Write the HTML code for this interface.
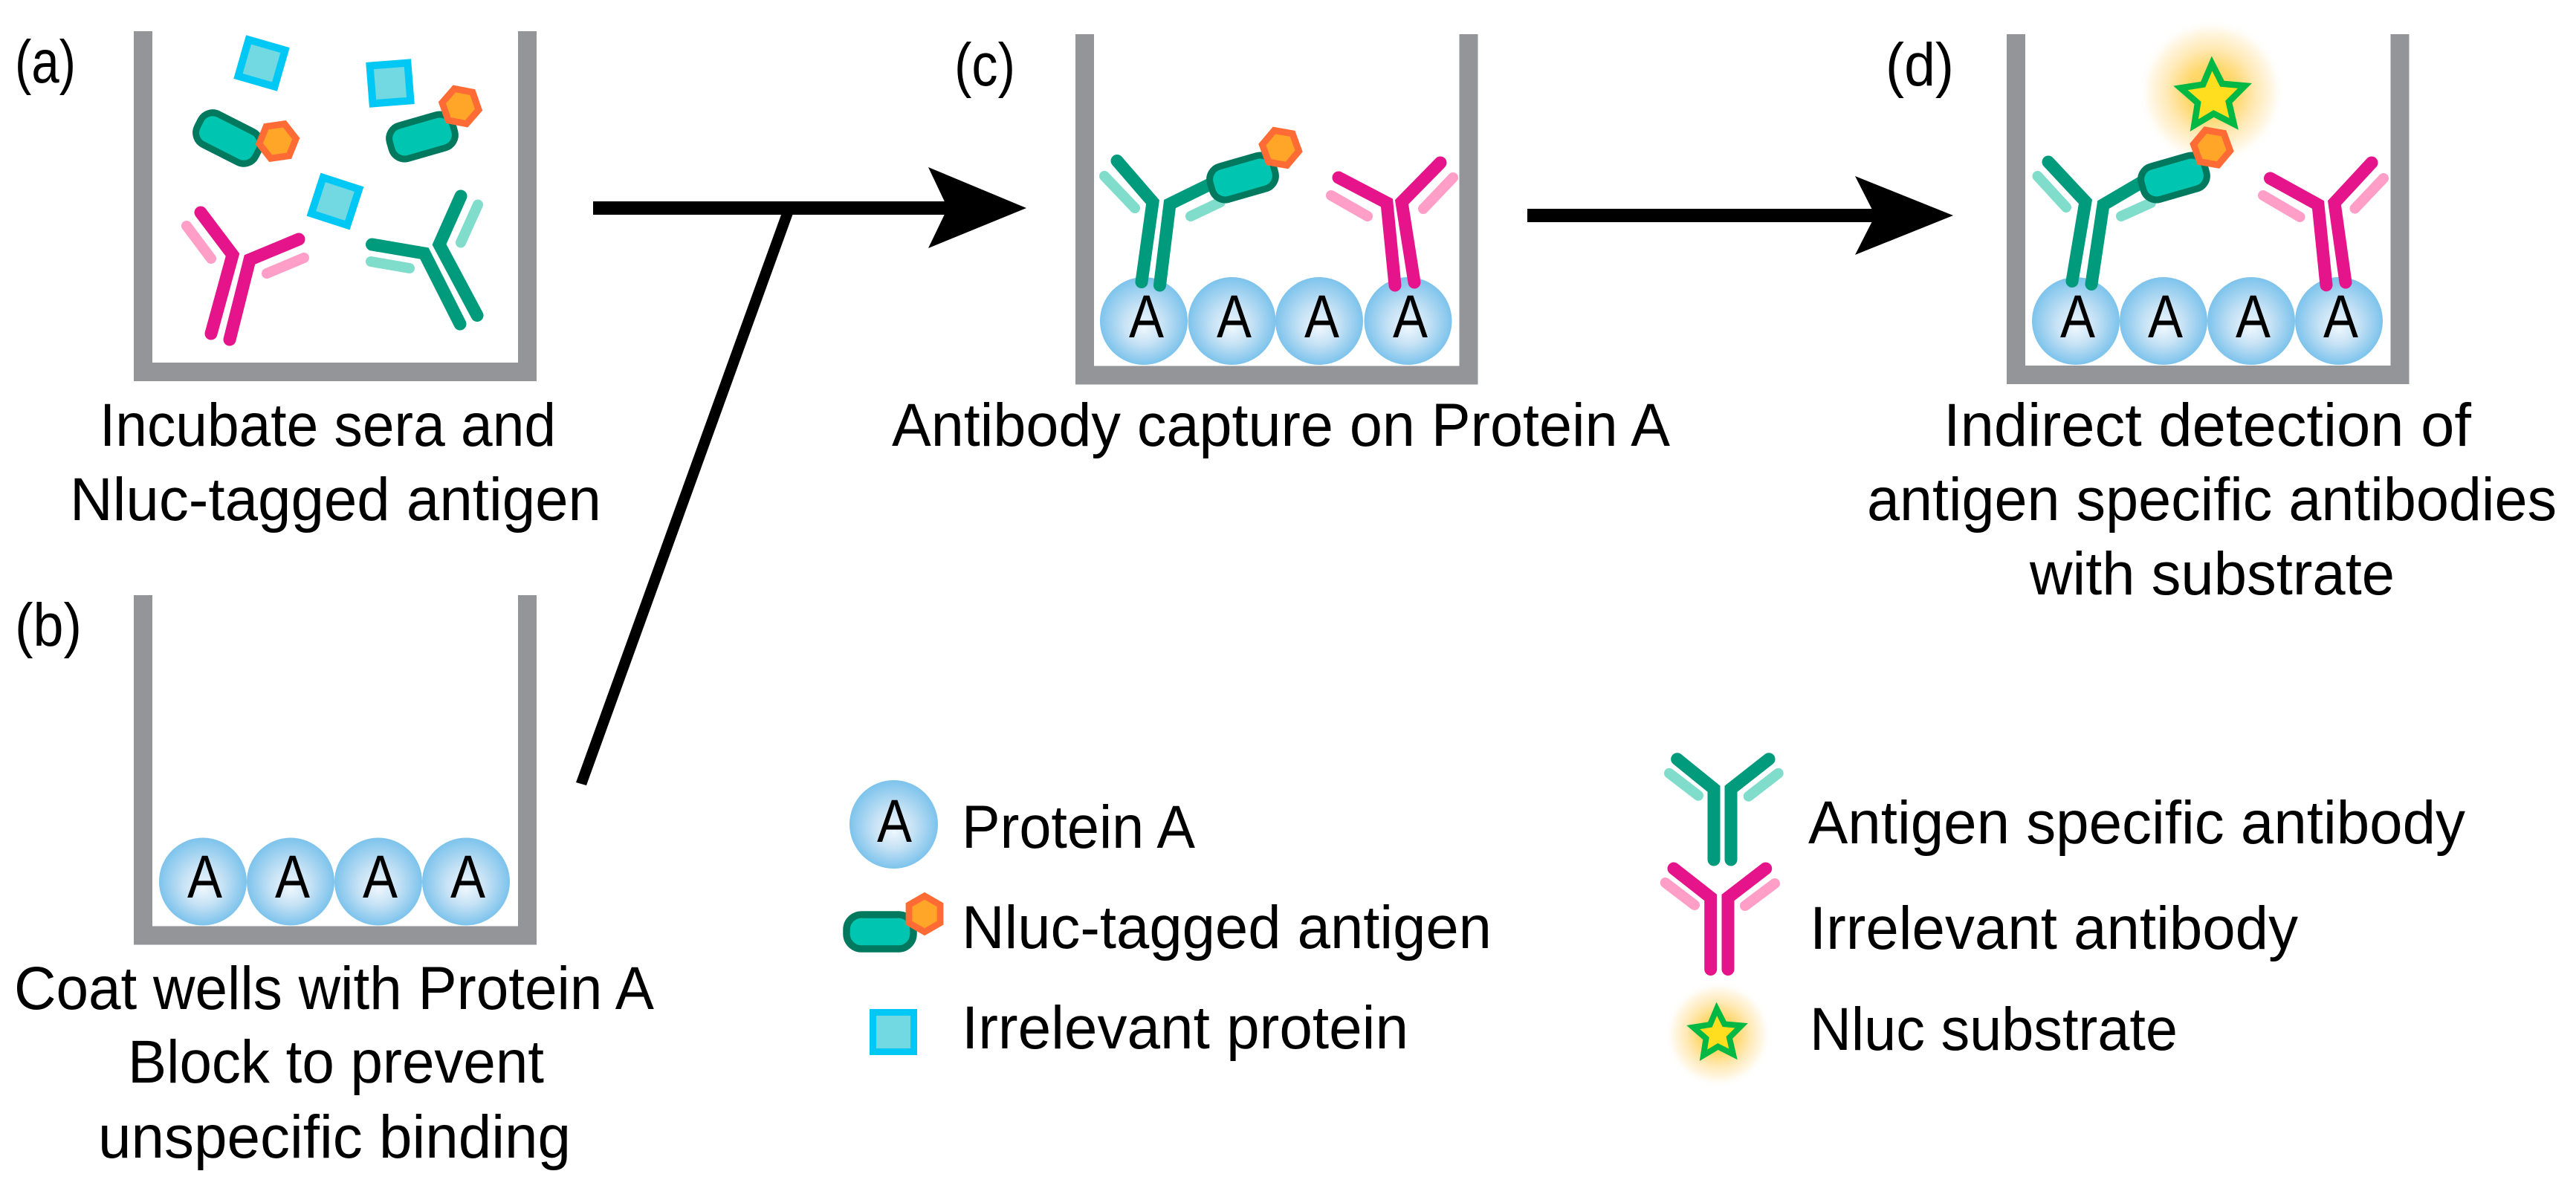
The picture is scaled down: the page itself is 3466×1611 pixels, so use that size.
<!DOCTYPE html>
<html><head><meta charset="utf-8"><style>html,body{margin:0;padding:0;background:#fff}svg{display:block}text{font-family:"Liberation Sans",sans-serif;font-size:82px;fill:#000}</style></head><body>
<svg xmlns="http://www.w3.org/2000/svg" width="3466" height="1611" viewBox="0 0 3466 1611">
<defs>
<radialGradient id="b" cx=".5" cy=".5" r=".5" fx=".5" fy=".58"><stop offset="0" stop-color="#EEF7FD"/><stop offset=".45" stop-color="#C6E2F5"/><stop offset="1" stop-color="#7DC3EC"/></radialGradient>
<radialGradient id="g"><stop offset="0" stop-color="#FFD24A"/><stop offset=".35" stop-color="#FFD86E"/><stop offset=".6" stop-color="#FFE9B4"/><stop offset=".85" stop-color="#FFF8E8"/><stop offset="1" stop-color="#FFFFFF" stop-opacity="0"/></radialGradient>
<polygon id="hex" points="25,0 12.5,21.65 -12.5,21.65 -25,0 -12.5,-21.65 12.5,-21.65" fill="#FFA629" stroke="#FF6B35" stroke-width="9"/>
<rect id="pill" x="-44" y="-23" width="88" height="46" rx="18" fill="#00C5B1" stroke="#00795F" stroke-width="9"/>
<rect id="sq" x="-25.5" y="-25.5" width="51" height="51" fill="#72D8E2" stroke="#00C8F5" stroke-width="10"/>
<polygon id="star" points="0,-45.5 12.9,-17.8 43.3,-14.1 20.9,6.8 26.7,36.8 0,22 -26.7,36.8 -20.9,6.8 -43.3,-14.1 -12.9,-17.8" fill="#FFDD1F" stroke="#00B843" stroke-miterlimit="10"/>
</defs>

<!-- wells -->
<g fill="none" stroke="#939598" stroke-width="25" stroke-linejoin="miter">
<path d="M192.500 42V500.500H709.500V42"/>
<path d="M192.500 801V1259H709.500V801"/>
<path d="M1459.500 46V505H1976V46"/>
<path d="M2712.500 46V504.500H3229V46"/>
</g>

<!-- protein A circles -->
<g fill="url(#b)">
<circle cx="273" cy="1186.500" r="59"/><circle cx="391" cy="1186.500" r="59"/><circle cx="509" cy="1186.500" r="59"/><circle cx="627" cy="1186.500" r="59"/>
<circle cx="1539" cy="432" r="59"/><circle cx="1657.500" cy="432" r="59"/><circle cx="1775" cy="432" r="59"/><circle cx="1894.500" cy="432" r="59"/>
<circle cx="2793" cy="432" r="59"/><circle cx="2911" cy="432" r="59"/><circle cx="3029" cy="432" r="59"/><circle cx="3147" cy="432" r="59"/>
<circle cx="1202.500" cy="1109.500" r="59.500"/>
</g>
<g>
<text x="252" y="1208" textLength="47" lengthAdjust="spacingAndGlyphs">A</text>
<text x="370" y="1208" textLength="47" lengthAdjust="spacingAndGlyphs">A</text>
<text x="488" y="1208" textLength="47" lengthAdjust="spacingAndGlyphs">A</text>
<text x="606" y="1208" textLength="47" lengthAdjust="spacingAndGlyphs">A</text>
<text x="1519" y="454" textLength="47" lengthAdjust="spacingAndGlyphs">A</text>
<text x="1637" y="454" textLength="47" lengthAdjust="spacingAndGlyphs">A</text>
<text x="1755" y="454" textLength="47" lengthAdjust="spacingAndGlyphs">A</text>
<text x="1874" y="454" textLength="47" lengthAdjust="spacingAndGlyphs">A</text>
<text x="2772" y="454" textLength="47" lengthAdjust="spacingAndGlyphs">A</text>
<text x="2890" y="454" textLength="47" lengthAdjust="spacingAndGlyphs">A</text>
<text x="3008" y="454" textLength="47" lengthAdjust="spacingAndGlyphs">A</text>
<text x="3126" y="454" textLength="47" lengthAdjust="spacingAndGlyphs">A</text>
<text x="1180" y="1133" textLength="47" lengthAdjust="spacingAndGlyphs">A</text>
</g>

<!-- glows -->
<circle cx="2975.500" cy="124" r="98" fill="url(#g)"/>
<circle cx="2312" cy="1392" r="71" fill="url(#g)"/>

<!-- light chains -->
<g fill="none" stroke="#80DCCB" stroke-width="14" stroke-linecap="round">
<path d="M643 275.500L620 326.500M499 352L551 361"/>
<path d="M1486 237L1527 280M1602 291L1642 272"/>
<path d="M2741.500 237L2780 279M2854 291L2894 273"/>
<path d="M2246 1040.700L2285 1070.700M2392.700 1040.700L2352.700 1071.700"/>
</g>
<g fill="none" stroke="#FF9EC7" stroke-width="14" stroke-linecap="round">
<path d="M251 304L284 348M359 368L409 347"/>
<path d="M1791 263L1840 291M1955 239L1915 281"/>
<path d="M3045 263L3094.500 292M3207 240L3168.500 280.600"/>
<path d="M2240.700 1188L2280 1218M2388 1189L2348 1219"/>
</g>

<!-- heavy chains -->
<g fill="none" stroke="#009A7C" stroke-width="17" stroke-linecap="round" stroke-linejoin="miter">
<path d="M620 264L591 329L642 424.500M500.500 329L571 341L619 436"/>
<path d="M1503 216.500L1551 272L1536 379.500M1628 248L1574 274.500L1560.500 384"/>
<path d="M2756 218L2806 271.500L2788 378.500M2882 245L2830 275.500L2814 382.500"/>
<path d="M2256.700 1021.700L2306 1061.700L2306 1157M2380 1021.700L2329 1061.700L2329 1157"/>
</g>
<g fill="none" stroke="#E6148A" stroke-width="17" stroke-linecap="round" stroke-linejoin="miter">
<path d="M270 286L313 343L284 449M402 322L336 349.500L309 457"/>
<path d="M1801 239L1866 273L1877 384M1938 219L1886 272L1903 380"/>
<path d="M3054.500 240L3119 275.500L3130 383.700M3191 219L3141 273L3156 380"/>
<path d="M2252 1169L2301.700 1208L2301.700 1304.500M2375.700 1169L2325 1208L2325 1304.500"/>
</g>

<!-- irrelevant proteins -->
<use href="#sq" transform="translate(352 85) rotate(16)"/>
<use href="#sq" transform="translate(525 112) rotate(-4.500)"/>
<use href="#sq" transform="translate(451 271) rotate(18)"/>
<rect x="1174.500" y="1362.500" width="55" height="53" fill="#72D8E2" stroke="#00C8F5" stroke-width="9"/>

<!-- antigens -->
<use href="#pill" transform="translate(307 186) rotate(27)"/>
<use href="#hex" transform="translate(373.500 190) rotate(-8)"/>
<use href="#pill" transform="translate(568 184) rotate(-16)"/>
<use href="#hex" transform="translate(619.500 143) rotate(11)"/>
<use href="#pill" transform="translate(1672 239) rotate(-16)"/>
<use href="#hex" transform="translate(1723 199) rotate(10)"/>
<use href="#pill" transform="translate(2925 239) rotate(-16)"/>
<use href="#hex" transform="translate(2976 198.500) rotate(10)"/>
<rect x="1139" y="1231" width="90" height="46" rx="20" fill="#00C5B1" stroke="#00795F" stroke-width="9.500"/>
<use href="#hex" transform="translate(1244 1230) rotate(90) scale(.97)"/>

<!-- stars -->
<use href="#star" stroke-width="8.500" transform="translate(2977.700 131) rotate(-2)"/>
<use href="#star" stroke-width="10.500" transform="translate(2311 1392) rotate(-2) scale(.75)"/>

<!-- arrows -->
<g fill="#000">
<rect x="798" y="271" width="480" height="18"/>
<polygon points="1249,225 1381,280 1249,334 1275,280"/>
<polygon points="775,1053 789,1057 1069,282 1055,278"/>
<rect x="2055" y="281" width="475" height="18"/>
<polygon points="2496,237 2628,290 2496,343 2523,290"/>
</g>

<!-- labels -->
<g>
<text x="20" y="111" textLength="82" lengthAdjust="spacingAndGlyphs">(a)</text>
<text x="20" y="869" textLength="90" lengthAdjust="spacingAndGlyphs">(b)</text>
<text x="1284" y="115" textLength="82" lengthAdjust="spacingAndGlyphs">(c)</text>
<text x="2537" y="115" textLength="92" lengthAdjust="spacingAndGlyphs">(d)</text>

<text x="134" y="600" textLength="614" lengthAdjust="spacingAndGlyphs">Incubate sera and</text>
<text x="94" y="700" textLength="715" lengthAdjust="spacingAndGlyphs">Nluc-tagged antigen</text>

<text x="19" y="1358" textLength="861" lengthAdjust="spacingAndGlyphs">Coat wells with Protein A</text>
<text x="172" y="1457" textLength="560" lengthAdjust="spacingAndGlyphs">Block to prevent</text>
<text x="132" y="1558" textLength="636" lengthAdjust="spacingAndGlyphs">unspecific binding</text>

<text x="1200" y="600" textLength="1047" lengthAdjust="spacingAndGlyphs">Antibody capture on Protein A</text>

<text x="2615" y="600" textLength="710" lengthAdjust="spacingAndGlyphs">Indirect detection of</text>
<text x="2512" y="700" textLength="928" lengthAdjust="spacingAndGlyphs">antigen specific antibodies</text>
<text x="2731" y="800" textLength="491" lengthAdjust="spacingAndGlyphs">with substrate</text>

<text x="1294" y="1141" textLength="314" lengthAdjust="spacingAndGlyphs">Protein A</text>
<text x="1294" y="1276" textLength="713" lengthAdjust="spacingAndGlyphs">Nluc-tagged antigen</text>
<text x="1294" y="1411" textLength="601" lengthAdjust="spacingAndGlyphs">Irrelevant protein</text>

<text x="2433" y="1135" textLength="884" lengthAdjust="spacingAndGlyphs">Antigen specific antibody</text>
<text x="2435" y="1277" textLength="657" lengthAdjust="spacingAndGlyphs">Irrelevant antibody</text>
<text x="2435" y="1413" textLength="495" lengthAdjust="spacingAndGlyphs">Nluc substrate</text>
</g>
</svg>
</body></html>
